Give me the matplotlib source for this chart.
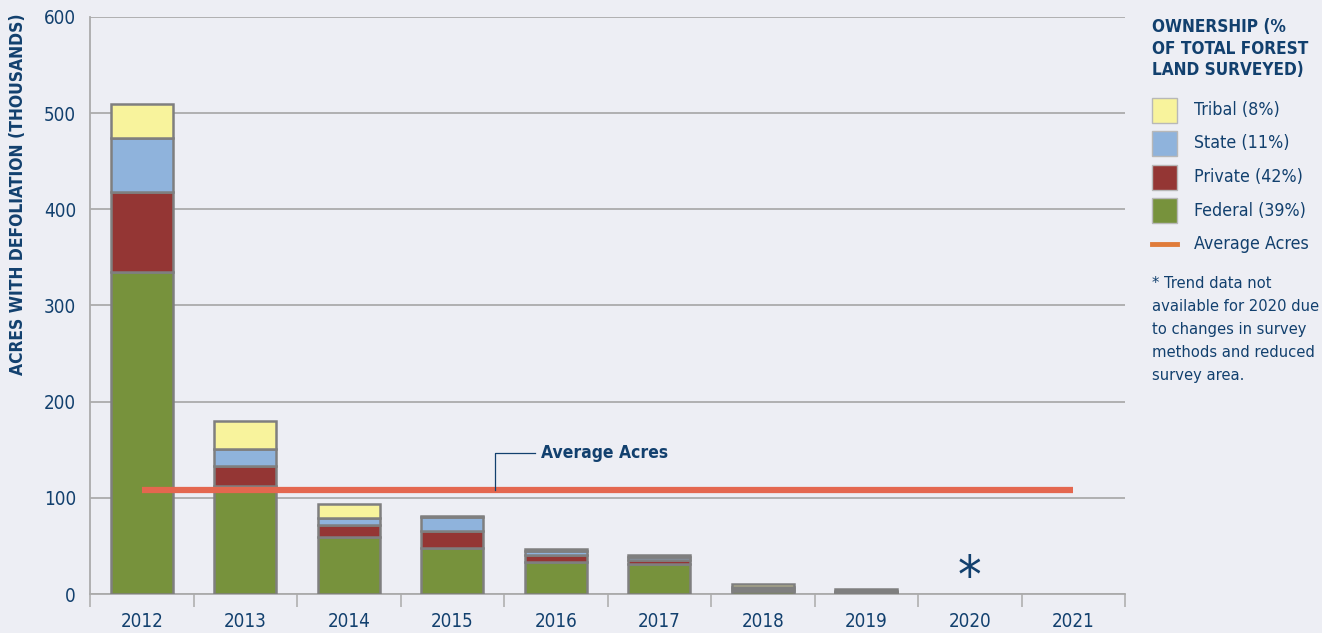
import matplotlib
matplotlib.use("Agg")
import matplotlib.pyplot as plt
from matplotlib import font_manager
from matplotlib.patches import Rectangle
from matplotlib.lines import Line2D
import numpy as np

fonts = font_manager.fontManager.ttflist
names = {f.name for f in fonts}
cond = [f for f in fonts if f.name == 'DejaVu Sans' and f.stretch in ('condensed', 'semi-condensed', 600, 500)]
if 'Liberation Sans Narrow' in names:
    FAM, STRETCH = 'Liberation Sans Narrow', 'normal'
elif cond:
    FAM, STRETCH = 'DejaVu Sans', 'condensed'
elif 'Roboto Condensed' in names:
    FAM, STRETCH = 'Roboto Condensed', 'normal'
else:
    FAM, STRETCH = 'Roboto', 'normal'
plt.rcParams['font.family'] = [FAM, 'DejaVu Sans']
plt.rcParams['font.stretch'] = STRETCH

years = ['2012', '2013', '2014', '2015', '2016', '2017', '2018', '2019', '2020', '2021']
federal = [335, 112, 59, 48, 33, 31, 3, 1, 0, 0]
private = [83, 21, 13, 17, 8, 4, 2, 1, 0, 0]
state = [56, 18, 7, 15, 4, 3, 2, 1, 0, 0]
tribal = [36, 29, 15, 1, 2, 3, 3, 2, 0, 0]
average_acres = 108
legend_labels = ['Tribal (8%)', 'State (11%)', 'Private (42%)', 'Federal (39%)', 'Average Acres']

navy = '#12406E'
bg = '#EDEEF4'
c_fed, c_priv, c_state, c_trib = '#77923C', '#943634', '#8FB3DC', '#F8F39C'
c_avg = '#E4674F'
c_avg_leg = '#E07B39'
edge = '#7F7F7F'

fig = plt.figure(figsize=(13.22, 6.33), dpi=100, facecolor=bg)
ax = fig.add_axes([90/1322, 39/633, (1125-90)/1322, (594-17)/633])
ax.set_facecolor(bg)

x = np.arange(len(years))
w = 0.6
bottom = np.zeros(len(years))
for vals, col in [(federal, c_fed), (private, c_priv), (state, c_state), (tribal, c_trib)]:
    v = np.array(vals, dtype=float)
    mask = v > 0
    ax.bar(x[mask], v[mask], w, bottom=bottom[mask], color=col, edgecolor=edge, linewidth=1.8, zorder=3)
    bottom += v

ax.plot([x[0], x[-1]], [average_acres, average_acres], color=c_avg, lw=4.5, solid_capstyle='butt', zorder=4)

# annotation
ax.plot([3.41, 3.41, 3.80], [average_acres, 146.5, 146.5], color=navy, lw=0.9, zorder=4)
ax.text(3.86, 146.5, 'Average Acres', color=navy, fontsize=12.5, fontweight='bold', va='center', ha='left')

# asterisk for 2020
ax.text(8, 17, '*', color=navy, fontsize=38, ha='center', va='center')

ax.set_xlim(-0.5, 9.5)
ax.set_ylim(0, 600)
ax.set_yticks(range(0, 601, 100))
ax.tick_params(axis='y', length=0, pad=10, labelsize=13.5, labelcolor=navy)
ax.set_xticks(x)
ax.set_xticklabels(years)
ax.tick_params(axis='x', which='major', length=0, pad=13, labelsize=13.5, labelcolor=navy)
ax.set_xticks(np.arange(-0.5, 10, 1), minor=True)
ax.tick_params(axis='x', which='minor', length=9, color='#B0B0B0', width=1.2, direction='out')
ax.grid(axis='y', color='#ABABAB', lw=1.3, zorder=0)
for s in ['top', 'right']:
    ax.spines[s].set_visible(False)
for s in ['left', 'bottom']:
    ax.spines[s].set_color('#ABABAB')
    ax.spines[s].set_linewidth(1.3)

fig.text(18/1322, 1 - 194/633, 'ACRES WITH DEFOLIATION (THOUSANDS)', rotation=90, color=navy,
         fontsize=12.5, fontweight='bold', ha='center', va='center')

# legend
def fy(py):
    return 1 - py/633

for i, line in enumerate(['OWNERSHIP (%', 'OF TOTAL FOREST', 'LAND SURVEYED)']):
    fig.text(1152/1322, fy(27 + i*21.5), line, color=navy, fontsize=12.3, fontweight='bold', va='center', ha='left')

cols = [c_trib, c_state, c_priv, c_fed]
ys = [110, 143.5, 177, 210.5, 244]
for i, lab in enumerate(legend_labels):
    if i < 4:
        fig.patches.append(Rectangle((1152/1322, fy(ys[i] + 12.5)), 25/1322, 25/633, transform=fig.transFigure,
                                     facecolor=cols[i], edgecolor='#B8B8B8', lw=1))
    else:
        fig.lines.append(Line2D([1152/1322, 1177/1322], [fy(ys[i]), fy(ys[i])], transform=fig.transFigure,
                                color=c_avg_leg, lw=3.5))
    fig.text(1194/1322, fy(ys[i]), lab, color=navy, fontsize=12.8, va='center', ha='left')

foot = ['* Trend data not', 'available for 2020 due', 'to changes in survey', 'methods and reduced', 'survey area.']
for i, line in enumerate(foot):
    fig.text(1152/1322, fy(283 + i*23.2), line, color=navy, fontsize=11.8, va='center', ha='left')

fig.savefig('out.png', dpi=100, facecolor=bg)
